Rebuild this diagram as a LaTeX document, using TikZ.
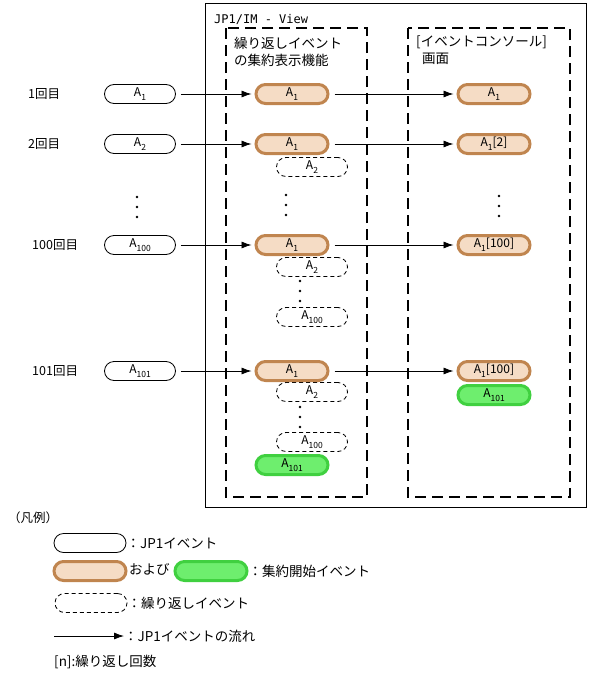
\documentclass[tikz,border=0pt]{standalone}
\usepackage{fontspec}
\setmainfont{Noto Sans CJK JP}
\newfontfamily\monof{DejaVu Sans Mono}
\usetikzlibrary{arrows.meta}
\definecolor{peach}{HTML}{F5DCC5}
\definecolor{brownb}{HTML}{C0854F}
\definecolor{greenf}{HTML}{6EEE6E}
\definecolor{greenb}{HTML}{40D040}
\newcommand\subidx[1]{\raisebox{-4pt}{\fontsize{8.5}{8.5}\selectfont #1}}
\begin{document}
\begin{tikzpicture}[x=1pt,y=-1pt,
  ev/.style={draw, line width=0.8pt, rounded corners=9.5pt, minimum width=71pt, minimum height=19pt, inner sep=0pt, font=\fontsize{12}{13}\selectfont},
  rep/.style={ev, dashed, dash pattern=on 4pt off 3pt},
  agg/.style={ev, draw=brownb, line width=3pt, fill=peach, minimum width=72pt, minimum height=19pt},
  grn/.style={agg, draw=greenb, fill=greenf},
  flow/.style={line width=0.8pt, -{Latex[length=10pt,width=7pt]}, shorten <=5pt, shorten >=3pt},
  jtext/.style={anchor=west, inner sep=0pt, font=\fontsize{13.5}{15}\selectfont},
  rowlab/.style={anchor=west, inner sep=0pt, font=\fontsize{12.5}{13}\selectfont},
  dashbox/.style={line width=2.5pt, dash pattern=on 11pt off 6pt},
  dot/.style={circle, fill, inner sep=0pt, minimum size=2.8pt}]
\useasboundingbox (0,0) rectangle (590,680);
% frames
\draw[line width=0.8pt] (205,3) rectangle (586,507);
\draw[dashbox] (226,28) rectangle (367,497);
\draw[dashbox] (408,28) rectangle (570,497);
\node[anchor=west, inner sep=0pt, font=\monof\fontsize{12}{13}\selectfont] (title) at (214,19) {JP1/IM - View};
\node[jtext] (lab1a) at (234,43) {繰り返しイベント};
\node[jtext] (lab1b) at (234,60) {の集約表示機能};
\node[jtext] (lab2a) at (416,42) {[イベントコンソール]};
\node[jtext] (lab2b) at (422,59) {画面};
% row labels
\node[rowlab] (r1) at (28,94) {1回目};
\node[rowlab] (r2) at (28,144) {2回目};
\node[rowlab] (r100) at (32,245) {100回目};
\node[rowlab] (r101) at (32,371) {101回目};
% left events
\node[ev] (w1) at (140,94) {A\subidx{1}};
\node[ev] (w2) at (140,144) {A\subidx{2}};
\node[ev] (w100) at (140,245) {A\subidx{100}};
\node[ev] (w101) at (140,371) {A\subidx{101}};
\node[dot] (ld1) at (137,197) {};
\node[dot] (ld2) at (137,207) {};
\node[dot] (ld3) at (137,217) {};
% middle column
\node[rep] (m2b) at (312,167) {A\subidx{2}};
\node[agg] (m1) at (292,94) {A\subidx{1}};
\node[agg] (m2) at (292,144) {A\subidx{1}};
\node[dot] (md1) at (286,195) {};
\node[dot] (md2) at (286,205) {};
\node[dot] (md3) at (286,215) {};
\node[rep] (m100b) at (312,267) {A\subidx{2}};
\node[rep] (m100c) at (312,317) {A\subidx{100}};
\node[agg] (m100) at (292,245) {A\subidx{1}};
\node[dot] (nd1) at (300,281) {};
\node[dot] (nd2) at (300,291) {};
\node[dot] (nd3) at (300,301) {};
\node[rep] (m101b) at (312,392) {A\subidx{2}};
\node[rep] (m101c) at (312,442) {A\subidx{100}};
\node[agg] (m101) at (292,371) {A\subidx{1}};
\node[dot] (od1) at (300,407) {};
\node[dot] (od2) at (300,417) {};
\node[dot] (od3) at (300,427) {};
\node[grn] (m101g) at (292,465) {A\subidx{101}};
% right column
\node[agg] (c1) at (494,94) {A\subidx{1}};
\node[agg] (c2) at (494,144) {A\subidx{1}[2]};
\node[dot] (rd1) at (499,196) {};
\node[dot] (rd2) at (499,206) {};
\node[dot] (rd3) at (499,216) {};
\node[agg] (c100) at (494,245) {A\subidx{1}[100]};
\node[agg] (c101) at (494,371) {A\subidx{1}[100]};
\node[grn] (c101g) at (494,395) {A\subidx{101}};
% flows
\draw[flow] (w1) -- (m1);
\draw[flow] (w2) -- (m2);
\draw[flow] (w100) -- (m100);
\draw[flow] (w101) -- (m101);
\draw[flow] (m1) -- (c1);
\draw[flow] (m2) -- (c2);
\draw[flow] (m100) -- (c100);
\draw[flow] (m101) -- (c101);
% legend
\node[rowlab] (lgt) at (8,518) {（凡例）};
\node[ev, minimum width=72pt] (lg1) at (90,543) {};
\node[jtext, anchor=west] (lg1t) at (lg1.east) {：JP1イベント};
\node[agg] (lg2) at (90,571) {};
\node[jtext, anchor=west] (lg2t) at (129,569) {および};
\node[grn] (lg3) at (211,571) {};
\node[jtext, anchor=west] (lg3t) at (lg3.east) {：集約開始イベント};
\node[rep, minimum width=72pt] (lg4) at (91,603) {};
\node[jtext, anchor=west] (lg4t) at (lg4.east) {：繰り返しイベント};
\coordinate (la) at (54,636);
\node[jtext, anchor=west] (lg5t) at (124,636) {：JP1イベントの流れ};
\draw[line width=0.8pt, -{Latex[length=10pt,width=7pt]}] (la) -- (lg5t.west);
\node[jtext, anchor=west] (lg6t) at (54,662) {[n]:繰り返し回数};
\end{tikzpicture}
\end{document}
